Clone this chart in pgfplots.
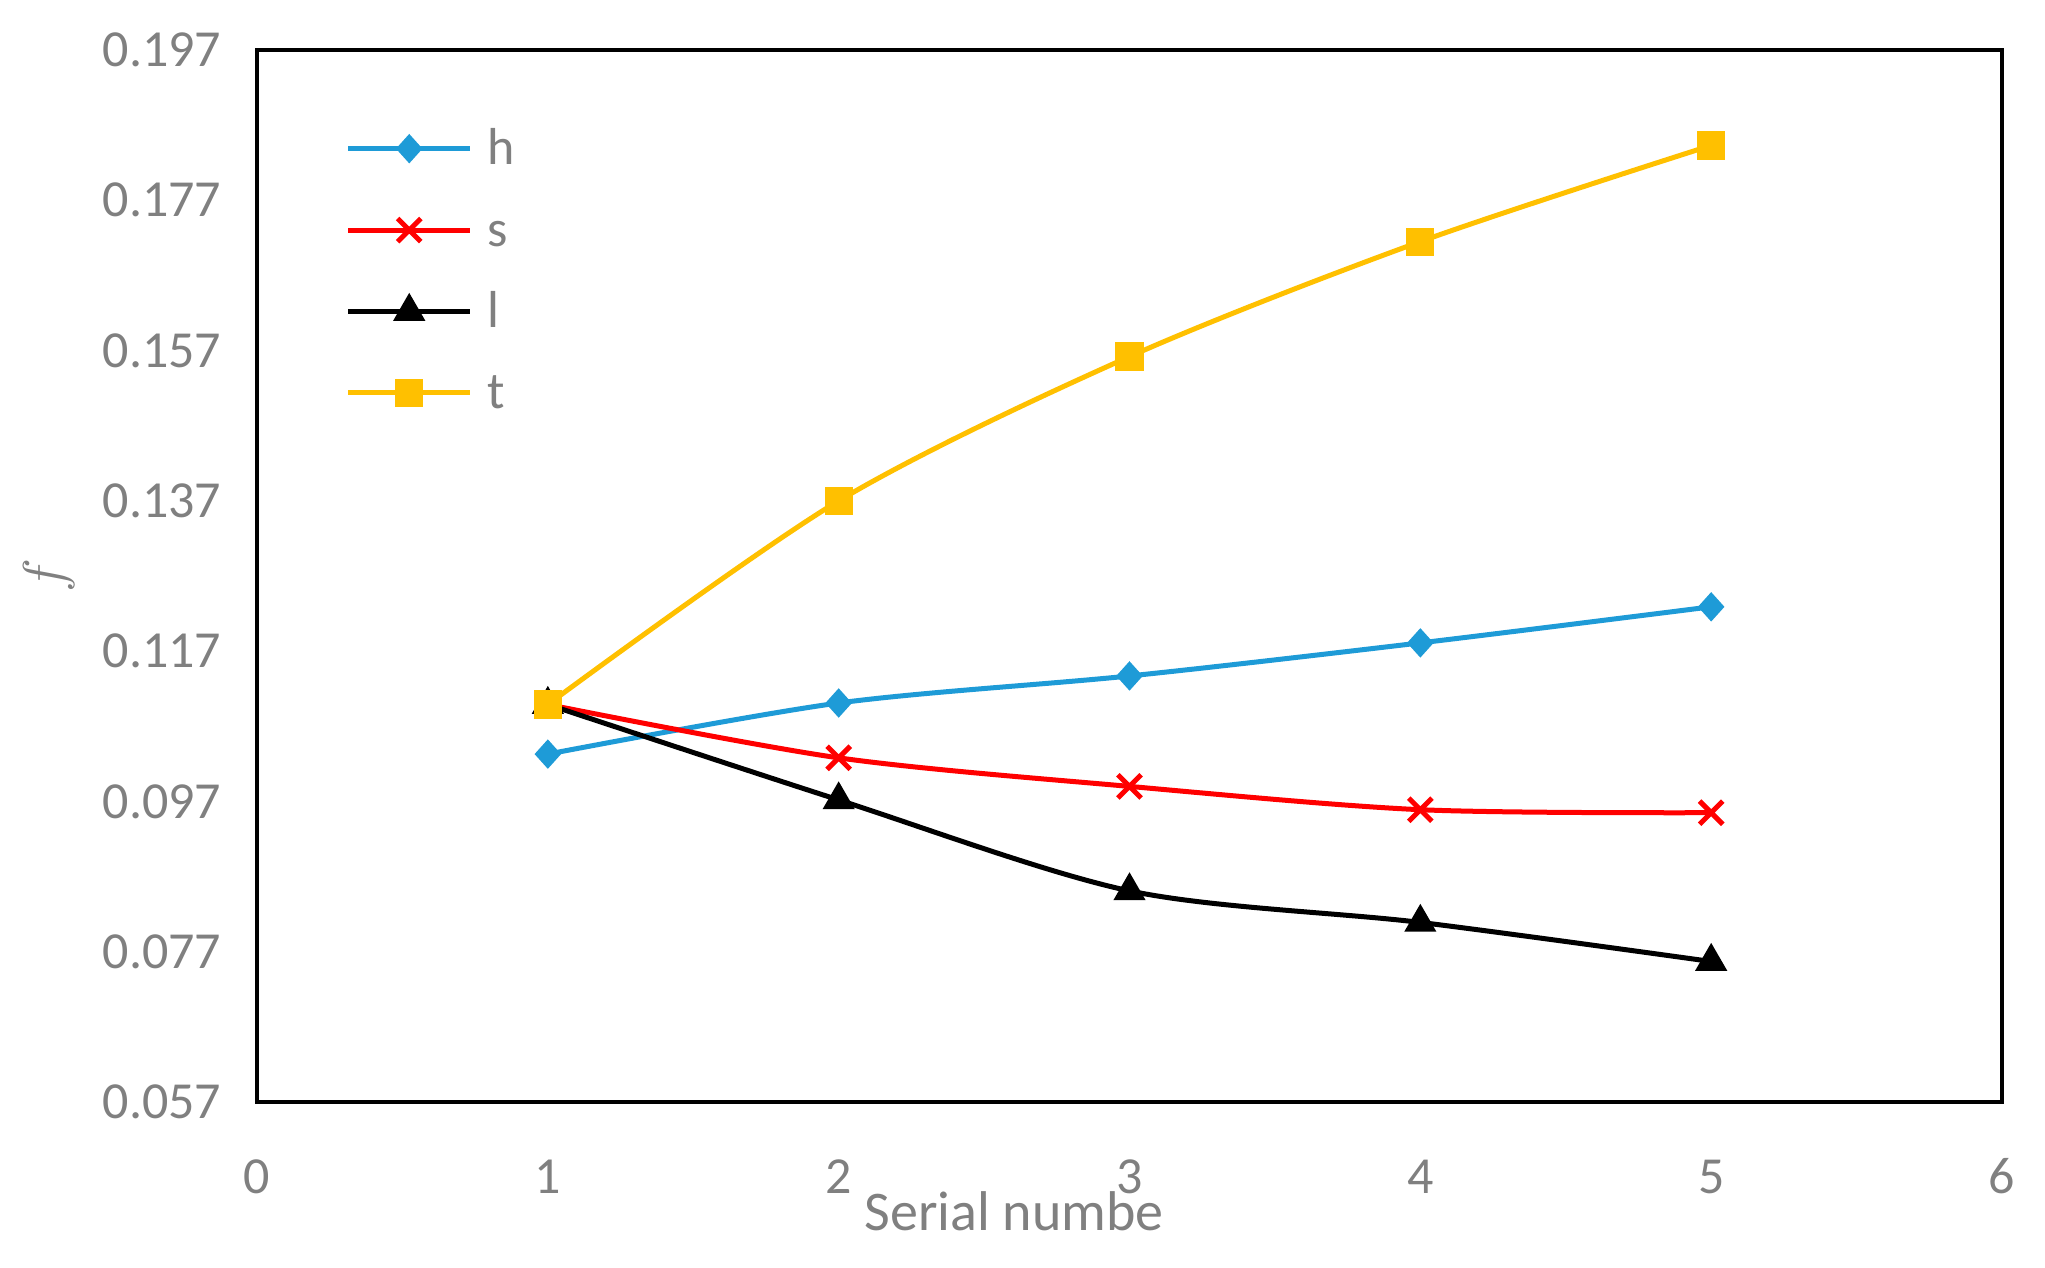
\documentclass[border=0pt]{standalone}
\usepackage{pgfplots}
\pgfplotsset{compat=1.18}
\usepackage{fontspec}
\setmainfont{Carlito}
\definecolor{tgray}{RGB}{128,128,128}
\definecolor{hblue}{RGB}{30,155,215}
\definecolor{tgold}{RGB}{255,192,0}
\begin{document}
\begin{tikzpicture}
\begin{axis}[name=ax, scale only axis, width=436.25pt, height=263pt,
  xmin=0, xmax=6, ymin=0.057, ymax=0.197,
  xtick={0,1,2,3,4,5,6},
  ytick={0.057,0.077,0.097,0.117,0.137,0.157,0.177,0.197},
  scaled y ticks=false,
  major tick length=0pt,
  axis line style={line width=1pt},
  /pgf/number format/assume math mode=true,
  tick label style={font=\fontsize{13}{15}\selectfont, text=tgray},
  yticklabel style={/pgf/number format/fixed, /pgf/number format/fixed zerofill, /pgf/number format/precision=3, anchor=east, xshift=-8.75pt, inner sep=0pt},
  xticklabel style={anchor=base, yshift=-22.75pt, inner sep=0pt},
  xlabel={Serial numbe},
  xlabel style={at={(axis description cs:0.4338,-0.1225)}, anchor=base, font=\fontsize{14}{17}\selectfont, text=tgray, inner sep=0pt},
  ylabel={$f$},
  ylabel style={at={(axis description cs:-0.119,0.5)}, anchor=center, font=\fontsize{14}{17}\selectfont, text=tgray},
  legend cell align=left,
  legend style={draw=none, fill=none, at={(axis description cs:0.0504,0.926)}, anchor=north west,
    font=\fontsize{13}{15}\selectfont, text=tgray, inner sep=0pt, column sep=3.6pt, row sep=10.35pt,
    nodes={inner sep=0pt, text height=9pt, text depth=1pt}},
  legend image code/.code={\draw[mark repeat=2,mark phase=2,#1] plot coordinates {(0pt,0pt)(15.25pt,0pt)(30.5pt,0pt)};},
]
\addplot[hblue, line width=1.25pt, smooth, mark=diamond*, mark size=2.75pt, mark options={solid, fill=hblue, xscale=1.2}]
  coordinates {(1,0.1033)(2,0.1101)(3,0.1137)(4,0.1181)(5,0.1229)};
\addlegendentry{h}
\addplot[red, line width=1.25pt, smooth, mark=x, mark size=4.1pt, mark options={solid}]
  coordinates {(1,0.1099)(2,0.1028)(3,0.0990)(4,0.0959)(5,0.0955)};
\addlegendentry{s}
\addplot[black, line width=1.25pt, smooth, mark=triangle*, mark size=3.4pt, mark options={solid, fill=black}]
  coordinates {(1,0.1099)(2,0.0972)(3,0.0851)(4,0.0809)(5,0.0757)};
\addlegendentry{l}
\addplot[tgold, line width=1.25pt, smooth, mark=square*, mark size=2.9pt, mark options={solid, fill=tgold}]
  coordinates {(1,0.1099)(2,0.1370)(3,0.1562)(4,0.1715)(5,0.1843)};
\addlegendentry{t}
\end{axis}
\pgfresetboundingbox
\path[use as bounding box] ([shift={(-64.25pt,-41.25pt)}]ax.south west) rectangle ([shift={(10.75pt,12.5pt)}]ax.north east);
\end{tikzpicture}
\end{document}
